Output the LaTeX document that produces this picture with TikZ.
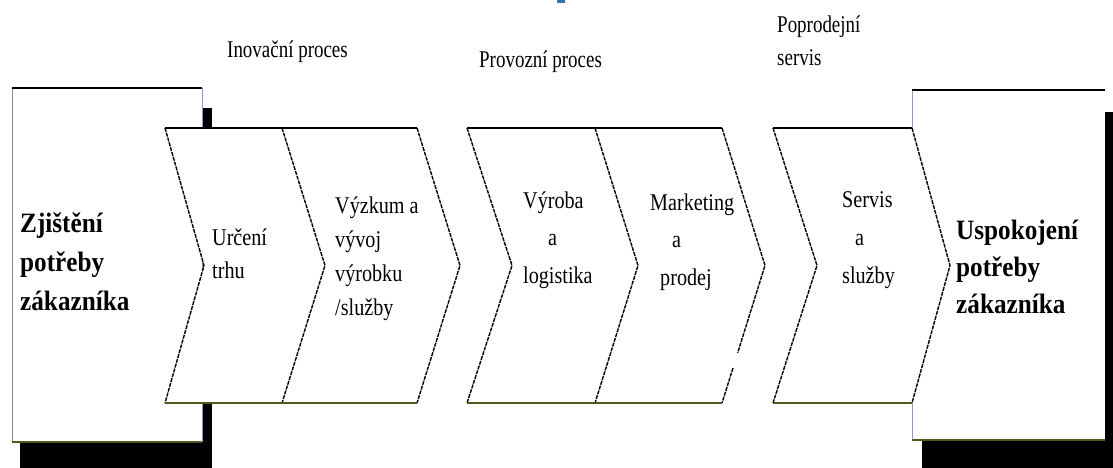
\documentclass[tikz,border=0pt]{standalone}
\usepackage{fontspec}
\setmainfont{Liberation Serif}
\newfontfamily\labelfont[FakeStretch=0.79]{Liberation Serif}
\newfontfamily\stepfont[FakeStretch=0.84]{Liberation Serif}
\newfontfamily\endfont[FakeStretch=0.9]{Liberation Serif Bold}

\definecolor{bottomcol}{RGB}{88,86,32}
\definecolor{sidecol}{RGB}{150,150,205}
\definecolor{leftcol}{RGB}{140,140,140}
\definecolor{markcol}{RGB}{60,110,180}

\begin{document}
\begin{tikzpicture}[x=1pt,y=-1pt,
  topedge/.style={line width=2.5pt,draw=black},
  bottomedge/.style={line width=2.5pt,draw=bottomcol},
  sideedge/.style={line width=0.9pt,draw=sidecol},
  notchline/.style={line width=1.4pt,draw=black,dash pattern=on 4pt off 1pt},
  shadow/.style={fill=black},
  stepbody/.style={fill=white,draw=none},
  steptext/.style={font=\stepfont\fontsize{24}{37.5}\selectfont,align=left,inner sep=0pt,anchor=base west},
  endtext/.style={font=\endfont\fontsize{28}{39}\selectfont,align=left,inner sep=0pt,anchor=base west},
  phase/.style={font=\labelfont\fontsize{24}{33}\selectfont,align=left,inner sep=0pt,anchor=base west}]

\useasboundingbox (0,0) rectangle (1113,468);
\clip (0,0) rectangle (1113,468);

% small mark at the top edge
\fill[markcol] (557,0) rectangle (565,3.5);

% --- start box: customer need ---
\fill[shadow] (20,108) rectangle (212,480);
\fill[white] (12,88) rectangle (202,442);
\draw[line width=0.9pt,draw=leftcol] (12,88) -- (12,442);
\draw[sideedge] (202,88) -- (202,442);
\draw[topedge] (12,88) -- (202,88);
\draw[bottomedge] (12,442) -- (202,442);

% --- end box: need satisfied ---
\fill[shadow] (922,112) rectangle (1125,480);
\fill[white] (912,90) rectangle (1105,440);
\draw[sideedge] (912,90) -- (912,440);
\draw[topedge] (912,90) -- (1105,90);
\draw[bottomedge] (912,440) -- (1105,440);

% --- chevron group 1: innovation ---
\fill[stepbody] (165,128) -- (417,128) -- (460,265.5) -- (417,403) -- (165,403) -- (204,265.5) -- cycle;
\draw[notchline] (165,128) -- (204,265.5) -- (165,403);
\draw[notchline] (282,128) -- (325,265.5) -- (282,403);
\draw[notchline] (417,128) -- (460,265.5) -- (417,403);
\draw[topedge] (165,128) -- (417,128);
\draw[bottomedge] (165,403) -- (417,403);

% --- chevron group 2: operations ---
\fill[stepbody] (467,128) -- (722,128) -- (765,265.5) -- (722,403) -- (467,403) -- (512,265.5) -- cycle;
\draw[notchline] (467,128) -- (512,265.5) -- (467,403);
\draw[notchline] (595,128) -- (638,265.5) -- (595,403);
\draw[notchline] (722,128) -- (765,265.5) -- (737.6,353);
\draw[notchline] (733,368) -- (722,403);
\draw[topedge] (467,128) -- (722,128);
\draw[bottomedge] (467,403) -- (722,403);

% --- chevron group 3: after-sales ---
\fill[stepbody] (773,128) -- (912,128) -- (950,265.5) -- (912,403) -- (773,403) -- (817,265.5) -- cycle;
\draw[notchline] (773,128) -- (817,265.5) -- (773,403);
\draw[notchline] (912,128) -- (950,265.5) -- (912,403);
\draw[topedge] (773,128) -- (912,128);
\draw[bottomedge] (773,403) -- (912,403);

% --- texts (base anchor sits on the last line) ---
\node[endtext] (need) at (20,310) {Zjištění\\potřeby\\zákazníka};
\node[endtext,font=\endfont\fontsize{28}{37}\selectfont] (satisfied) at (956,313) {Uspokojení\\potřeby\\zákazníka};

\node[steptext,font=\stepfont\fontsize{24}{33}\selectfont] (market) at (212,278) {Určení\\trhu};
\node[steptext,font=\stepfont\fontsize{24}{34}\selectfont] (research) at (335,315) {Výzkum a\\vývoj\\výrobku\\/služby};
\node[steptext] (production) at (523,283) {Výroba\\\hspace*{25pt}a\\logistika};
\node[steptext] (marketing) at (650,285) {Marketing\\\hspace*{22pt}a\\\hspace*{10pt}prodej};
\node[steptext,font=\stepfont\fontsize{24}{38}\selectfont] (service) at (842,283) {Servis\\\hspace*{13pt}a\\služby};

\node[phase] (innovation) at (227,58) {Inovační proces};
\node[phase] (operation) at (479,68) {Provozní proces};
\node[phase] (aftersales) at (777,66) {Poprodejní\\servis};
\end{tikzpicture}
\end{document}
